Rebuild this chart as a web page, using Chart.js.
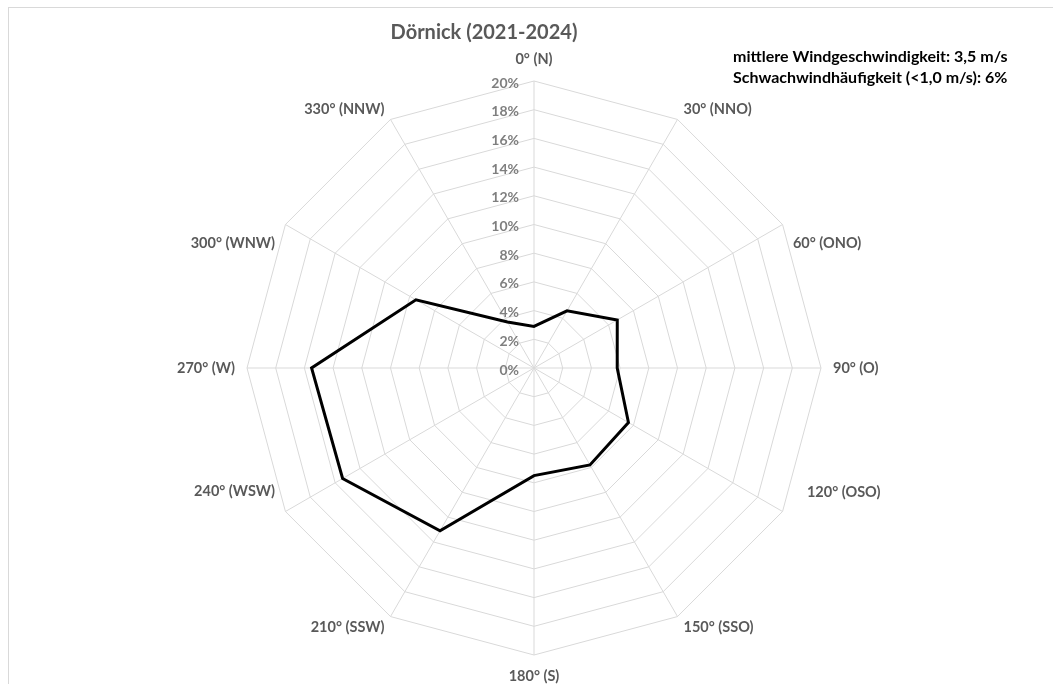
<!DOCTYPE html>
<html lang="de">
<head>
  <meta charset="utf-8" />
  <title>Windrose Dörnick</title>
  <style>
    html, body { margin: 0; padding: 0; background: #ffffff; }
    #wrap { position: relative; width: 1053px; height: 684px; }
    #frame {
      position: absolute; left: 8px; top: 7px; right: 0; bottom: 0;
      border-left: 1px solid #d9d9d9; border-top: 1px solid #d9d9d9;
    }
    #wrap canvas { position: absolute; left: 0; top: 0; }
  </style>
</head>
<body>
  <div id="wrap">
    <div id="frame"></div>
    <canvas id="rose"></canvas>
  </div>

  <script src="https://cdn.jsdelivr.net/npm/chart.js"></script>
  <script>
    // Windrichtungen (Sektoren, im Uhrzeigersinn ab Nord)
    const directions = [
      '0° (N)', '30° (NNO)', '60° (ONO)', '90° (O)', '120° (OSO)', '150° (SSO)',
      '180° (S)', '210° (SSW)', '240° (WSW)', '270° (W)', '300° (WNW)', '330° (NNW)'
    ];
    // Häufigkeit in %
    const frequency = [2.9, 4.6, 6.7, 5.8, 7.6, 7.8, 7.5, 13.1, 15.4, 15.5, 9.5, 3.7];
    // Achsenbeschriftung
    const tickValues = [0, 2, 4, 6, 8, 10, 12, 14, 16, 18, 20];
    const chartTitle = 'Dörnick (2021-2024)';
    const infoLines = [
      'mittlere Windgeschwindigkeit: 3,5 m/s',
      'Schwachwindhäufigkeit (<1,0 m/s): 6%'
    ];

    const FONT = 'Lato, "Open Sans", sans-serif';
    // Excel pushes the 60/120/240/300 labels towards the horizontal axis
    const labelNudge = [
      [0, 0], [0, 0], [0, 25], [0, 0], [14, -25], [0, 0],
      [0, 0], [0, 0], [0, -26], [0, 0], [0, 25], [0, 0]
    ];

    // Ticks left of the north axis, right aligned (Excel style)
    const tickLabelPlugin = {
      id: 'tickLabels',
      afterDatasetsDraw(chart) {
        const s = chart.scales.r;
        const ctx = chart.ctx;
        ctx.save();
        ctx.font = 'bold 14px ' + FONT;
        ctx.fillStyle = '#7f7f7f';
        ctx.textAlign = 'right';
        ctx.textBaseline = 'middle';
        for (const v of tickValues) {
          const y = s.yCenter - s.getDistanceFromCenterForValue(v);
          ctx.fillText(v + '%', s.xCenter - 15, y + 2);
        }
        ctx.restore();
      }
    };

    // Direction labels around the rose, title and info text
    const pointLabelPlugin = {
      id: 'dirLabels',
      afterDraw(chart) {
        const s = chart.scales.r;
        const ctx = chart.ctx;
        ctx.save();
        ctx.font = 'bold 14.5px ' + FONT;
        ctx.fillStyle = '#595959';
        directions.forEach((label, i) => {
          const p = s.getPointPosition(i, s.drawingArea + 12);
          const x = p.x + labelNudge[i][0];
          const y = p.y + labelNudge[i][1];
          if (i === 0) {
            ctx.textAlign = 'center'; ctx.textBaseline = 'bottom';
            ctx.fillText(label, x, y - 2);
          } else if (i === 6) {
            ctx.textAlign = 'center'; ctx.textBaseline = 'top';
            ctx.fillText(label, x, y + 2);
          } else {
            ctx.textAlign = i < 6 ? 'left' : 'right';
            ctx.textBaseline = 'middle';
            ctx.fillText(label, x, y);
          }
        });

        // title
        ctx.font = 'bold 20px ' + FONT;
        ctx.textAlign = 'center';
        ctx.textBaseline = 'middle';
        ctx.fillText(chartTitle, 484, 33);

        // info text top right
        ctx.font = 'bold 16px ' + FONT;
        ctx.fillStyle = '#000000';
        ctx.textAlign = 'left';
        infoLines.forEach((t, k) => ctx.fillText(t, 733, 57 + k * 21));
        ctx.restore();
      }
    };

    new Chart(document.getElementById('rose'), {
      type: 'radar',
      data: {
        labels: directions,
        datasets: [{
          label: 'Häufigkeit',
          data: frequency,
          borderColor: '#000000',
          borderWidth: 3,
          pointRadius: 0,
          pointHoverRadius: 0,
          fill: false,
          tension: 0
        }]
      },
      options: {
        responsive: true,
        maintainAspectRatio: false,
        animation: false,
        layout: { padding: { left: 247, right: 231, top: 81, bottom: 28 } },
        plugins: {
          legend: { display: false },
          tooltip: { enabled: false }
        },
        scales: {
          r: {
            min: 0,
            max: 20,
            ticks: { stepSize: 2, display: false },
            pointLabels: { display: false },
            grid: { color: '#d9d9d9', lineWidth: 1 },
            angleLines: { color: '#d9d9d9', lineWidth: 1 }
          }
        }
      },
      plugins: [tickLabelPlugin, pointLabelPlugin]
    });
  </script>
</body>
</html>
